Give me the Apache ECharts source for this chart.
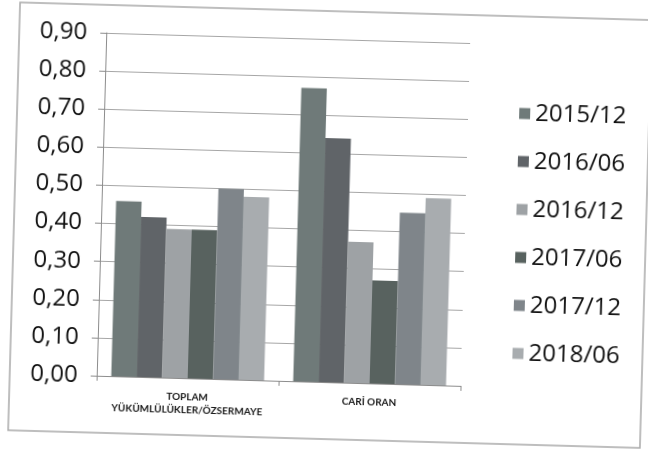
<!DOCTYPE html>
<html>
<head>
<meta charset="utf-8">
<script src="https://cdn.jsdelivr.net/npm/echarts@6/dist/echarts.min.js"></script>
<style>
  html, body { margin: 0; padding: 0; background: #ffffff; overflow: hidden; }
  #wrap { width: 648px; height: 450px; transform: rotate(1.6deg); transform-origin: 324px 225px; }
  #chart { width: 648px; height: 450px; }
</style>
</head>
<body>
<div id="wrap"><div id="chart"></div></div>
<script>
const categories = ['TOPLAM\nYÜKÜMLÜLÜKLER/ÖZSERMAYE', 'CARİ ORAN'];
const seriesNames = ['2015/12', '2016/06', '2016/12', '2017/06', '2017/12', '2018/06'];
const s2015_12 = [0.46, 0.77];
const s2016_06 = [0.42, 0.64];
const s2016_12 = [0.39, 0.37];
const s2017_06 = [0.39, 0.27];
const s2017_12 = [0.50, 0.45];
const s2018_06 = [0.48, 0.49];
const yTickLabels = ['0,00', '0,10', '0,20', '0,30', '0,40', '0,50', '0,60', '0,70', '0,80', '0,90'];

const seriesValues = [s2015_12, s2016_06, s2016_12, s2017_06, s2017_12, s2018_06];
const colors = ['#6f7a79', '#606468', '#9ea2a5', '#58625f', '#7f858a', '#a8acaf'];

const chart = echarts.init(document.getElementById('chart'), null, { renderer: 'canvas' });
chart.setOption({
  backgroundColor: '#ffffff',
  animation: false,
  color: colors,
  graphic: [{
    type: 'rect',
    shape: { x: 14, y: 11, width: 632, height: 428 },
    style: { fill: 'none', stroke: '#a9a9a9', lineWidth: 1.5 },
    silent: true
  }],
  grid: { left: 101, right: 183, top: 39, bottom: 68, containLabel: false },
  legend: {
    orient: 'vertical',
    left: 511,
    top: 91,
    itemWidth: 11,
    itemHeight: 11,
    itemGap: 24,
    icon: 'rect',
    data: seriesNames,
    textStyle: { fontFamily: 'Open Sans', fontSize: 24, color: '#111111', lineHeight: 24 }
  },
  xAxis: {
    type: 'category',
    data: categories,
    axisLine: { show: true, lineStyle: { color: '#8c8c8c', width: 1 } },
    axisTick: { show: true, length: 5, lineStyle: { color: '#8c8c8c' } },
    axisLabel: {
      margin: 12,
      fontFamily: 'Lato',
      fontWeight: 'bold',
      fontSize: 10,
      lineHeight: 13.5,
      color: '#1a1a1a',
      interval: 0
    }
  },
  yAxis: {
    type: 'value',
    min: 0,
    max: 0.9,
    interval: 0.1,
    axisLine: { show: true, lineStyle: { color: '#8c8c8c', width: 1 } },
    axisTick: { show: true, length: 6, lineStyle: { color: '#8c8c8c' } },
    splitLine: { show: true, lineStyle: { color: '#a6a6a6', width: 1 } },
    axisLabel: {
      margin: 19,
      fontFamily: 'Open Sans',
      fontSize: 24,
      color: '#111111',
      formatter: function (v) { return yTickLabels[Math.round(v * 10)]; }
    }
  },
  series: seriesNames.map(function (name, i) {
    return {
      name: name,
      type: 'bar',
      data: seriesValues[i],
      barGap: '0%',
      barCategoryGap: '16%',
      itemStyle: { color: colors[i] }
    };
  })
});
</script>
</body>
</html>
